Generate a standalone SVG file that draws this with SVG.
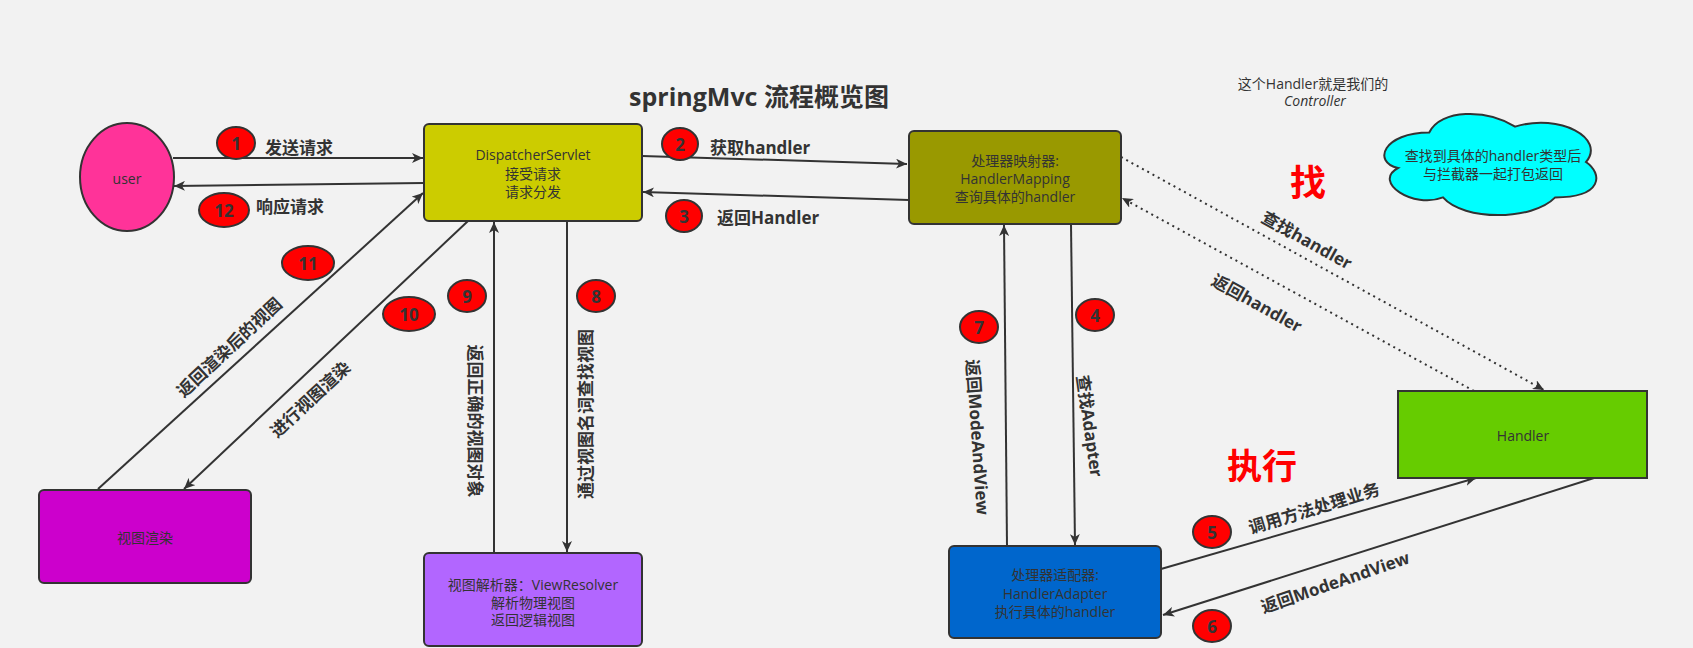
<svg xmlns="http://www.w3.org/2000/svg" width="1693" height="648" viewBox="0 0 1693 648">
<style>
.node{stroke:#333;stroke-width:2}
.nt{font-family:"Open Sans","Noto Sans CJK SC",sans-serif;font-size:14px;fill:#333;text-anchor:middle;dominant-baseline:central}
.lbl{font-family:"Open Sans","Noto Sans CJK SC",sans-serif;font-size:17px;font-weight:bold;fill:#333;dominant-baseline:central}
.rl{text-anchor:middle}
.badge ellipse{fill:#FF0000;stroke:#333;stroke-width:2}
.badge text{font-family:"Open Sans","Noto Sans CJK SC",sans-serif;font-size:17px;font-weight:bold;fill:#333;text-anchor:middle;dominant-baseline:central}
.ln{fill:none;stroke:#333;stroke-width:2}
.arr{marker-end:url(#ah)}
.dot{stroke-dasharray:2 4}
.red{font-family:"Noto Sans CJK SC",sans-serif;font-weight:bold;fill:#FF0000;text-anchor:middle;dominant-baseline:central}
</style>
<defs>
<marker id="ah" markerUnits="userSpaceOnUse" markerWidth="12" markerHeight="10" refX="11" refY="5" orient="auto">
<path d="M0,0 L11,5 L0,10 L3,5 Z" fill="#333"/>
</marker>
</defs>
<rect width="1693" height="648" fill="#F2F2F2"/>

<text x="759" y="96" style="font-family:'Open Sans','Noto Sans CJK SC',sans-serif;font-size:25px;font-weight:bold;fill:#333;text-anchor:middle;dominant-baseline:central">springMvc 流程概览图</text>

<g id="note">
<text class="nt" x="1313" y="83">这个Handler就是我们的</text>
<text class="nt" x="1315" y="100" font-style="italic">Controller</text>
</g>
<text class="red" x="1308" y="180" font-size="36">找</text>
<text class="red" x="1262" y="463" font-size="35">执行</text>

<g id="connectors">
<line class="ln arr" x1="173" y1="158" x2="423" y2="158"/>
<line class="ln arr" x1="424" y1="183" x2="174" y2="186"/>
<line class="ln arr" x1="642" y1="156" x2="907" y2="164"/>
<line class="ln arr" x1="909" y1="200" x2="643" y2="192"/>
<line class="ln arr dot" x1="1121" y1="157" x2="1544" y2="390"/>
<line class="ln arr dot" x1="1474" y1="391" x2="1122" y2="198"/>
<line class="ln arr" x1="1071" y1="224" x2="1075" y2="545"/>
<line class="ln arr" x1="1161" y1="569" x2="1476" y2="478"/>
<line class="ln arr" x1="1594" y1="478" x2="1163" y2="615"/>
<line class="ln arr" x1="1007" y1="546" x2="1004" y2="225"/>
<line class="ln arr" x1="567" y1="221" x2="567" y2="552"/>
<line class="ln arr" x1="494" y1="553" x2="494" y2="222"/>
<line class="ln arr" x1="468" y1="221" x2="184" y2="489"/>
<line class="ln arr" x1="98" y1="489" x2="423" y2="193"/>
</g>

<g id="user">
<ellipse class="node" cx="127" cy="177" rx="47" ry="54" fill="#FF3399"/>
<text class="nt" x="127" y="178">user</text>
</g>
<g id="dispatcher">
<rect class="node" x="424" y="124" width="218" height="97" rx="5" fill="#CCCC00"/>
<text class="nt" x="533" y="154">DispatcherServlet</text>
<text class="nt" x="533" y="173">接受请求</text>
<text class="nt" x="533" y="191">请求分发</text>
</g>
<g id="handlerMapping">
<rect class="node" x="909" y="131" width="212" height="93" rx="5" fill="#999900"/>
<text class="nt" x="1015" y="160">处理器映射器:</text>
<text class="nt" x="1015" y="178">HandlerMapping</text>
<text class="nt" x="1015" y="196">查询具体的handler</text>
</g>
<g id="cloud">
<path class="node" fill="#00FFFF" d="M1429.25,132.5 C1383.45,132.5 1372,162 1398,168 C1372,182 1413.2,209.2 1443,197.4 C1463.6,221 1532.3,221 1555.2,197.4 C1603,197.4 1603,173.8 1586,162 C1606,138.4 1560.2,112.8 1515.1,126.6 C1486.5,108.9 1440.7,108.9 1429.25,132.5 Z"/>
<text class="nt" x="1493" y="155">查找到具体的handler类型后</text>
<text class="nt" x="1493" y="173">与拦截器一起打包返回</text>
</g>
<g id="handler">
<rect class="node" x="1398" y="391" width="249" height="87" fill="#66CC00"/>
<text class="nt" x="1523" y="435">Handler</text>
</g>
<g id="handlerAdapter">
<rect class="node" x="949" y="546" width="212" height="92" rx="5" fill="#0066CC"/>
<text class="nt" x="1055" y="574">处理器适配器:</text>
<text class="nt" x="1055" y="593">HandlerAdapter</text>
<text class="nt" x="1055" y="611">执行具体的handler</text>
</g>
<g id="viewRender">
<rect class="node" x="39" y="490" width="212" height="93" rx="5" fill="#CC00CC"/>
<text class="nt" x="145" y="537">视图渲染</text>
</g>
<g id="viewResolver">
<rect class="node" x="424" y="553" width="218" height="93" rx="5" fill="#B266FF"/>
<text class="nt" x="533" y="584">视图解析器：ViewResolver</text>
<text class="nt" x="533" y="602">解析物理视图</text>
<text class="nt" x="533" y="619">返回逻辑视图</text>
</g>

<g id="labels">
<text class="lbl" x="265" y="147">发送请求</text>
<text class="lbl" x="256" y="206">响应请求</text>
<text class="lbl" x="710" y="147">获取handler</text>
<text class="lbl" x="717" y="217">返回Handler</text>
<text class="lbl rl" transform="translate(1307,240) rotate(29)">查找handler</text>
<text class="lbl rl" transform="translate(1257,303) rotate(29)">返回handler</text>
<text class="lbl rl" transform="translate(1090,426) rotate(82)">查找Adapter</text>
<text class="lbl rl" transform="translate(978,437) rotate(86)">返回ModeAndView</text>
<text class="lbl rl" transform="translate(1314,508) rotate(-17)">调用方法处理业务</text>
<text class="lbl rl" transform="translate(1335,582) rotate(-19)">返回ModeAndView</text>
<text class="lbl rl" transform="translate(585,414) rotate(-90)">通过视图名词查找视图</text>
<text class="lbl rl" transform="translate(475,421) rotate(90)">返回正确的视图对象</text>
<text class="lbl rl" transform="translate(229,347) rotate(-43)">返回渲染后的视图</text>
<text class="lbl rl" transform="translate(310,399) rotate(-43)">进行视图渲染</text>
</g>

<g id="badges">
<g class="badge"><ellipse cx="236" cy="143" rx="19" ry="16"/><text x="236" y="143">1</text></g>
<g class="badge"><ellipse cx="680" cy="144" rx="18" ry="16"/><text x="680" y="144">2</text></g>
<g class="badge"><ellipse cx="684" cy="216" rx="18" ry="16"/><text x="684" y="216">3</text></g>
<g class="badge"><ellipse cx="1095" cy="315" rx="19" ry="16"/><text x="1095" y="315">4</text></g>
<g class="badge"><ellipse cx="1212" cy="532" rx="19" ry="16"/><text x="1212" y="532">5</text></g>
<g class="badge"><ellipse cx="1212" cy="626" rx="19" ry="16"/><text x="1212" y="626">6</text></g>
<g class="badge"><ellipse cx="979" cy="327" rx="19" ry="16"/><text x="979" y="327">7</text></g>
<g class="badge"><ellipse cx="596" cy="296" rx="19" ry="16"/><text x="596" y="296">8</text></g>
<g class="badge"><ellipse cx="467" cy="296" rx="19" ry="16"/><text x="467" y="296">9</text></g>
<g class="badge"><ellipse cx="409" cy="314" rx="26" ry="17"/><text x="409" y="314">10</text></g>
<g class="badge"><ellipse cx="308" cy="263" rx="26" ry="17"/><text x="308" y="263">11</text></g>
<g class="badge"><ellipse cx="224" cy="210" rx="25" ry="17"/><text x="224" y="210">12</text></g>
</g>
</svg>
